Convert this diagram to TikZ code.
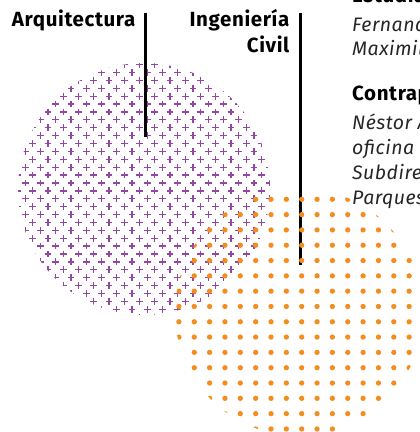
\documentclass[tikz,border=0pt]{standalone}
\usepackage{fontspec}
\setmainfont{Fira Sans}
\definecolor{pluspurple}{RGB}{146,72,162}
\definecolor{dotorange}{RGB}{244,140,30}
\tikzset{
  plusmark/.style={draw=pluspurple, line width=1.3pt},
  dotmark/.style={fill=dotorange},
  leader/.style={draw=black, line width=3pt},
  headlabel/.style={inner sep=0pt, font=\fontsize{20.5}{24}\selectfont\bfseries\addfontfeatures{LetterSpace=3}},
  bodytext/.style={inner sep=0pt, font=\fontsize{19.5}{24}\selectfont\itshape\addfontfeatures{LetterSpace=2.5}, text=black!85},
}
\begin{document}
\begin{tikzpicture}[x=1pt, y=-1pt]
\useasboundingbox (0,0) rectangle (420,432);
\clip (0,0) rectangle (420,432);
% purple plus pattern
\begin{scope}
  \clip (144,189) circle (126);
  \foreach \j in {-1,...,31} {
    \pgfmathsetmacro\yy{72.5+7.89*\j}
    \pgfmathsetmacro\xo{7.625*abs(mod(\j,2))}
    \foreach \k in {-7,...,11} {
      \pgfmathsetmacro\xx{116.7+\xo+15.25*\k}
      \draw[plusmark] (\xx,\yy) +(-3.4,0) -- +(3.4,0) +(0,-3.4) -- +(0,3.4);
    }
  }
\end{scope}
% leader lines
\coordinate (a1) at (145.7,12.7);
\coordinate (a2) at (145.7,136.5);
\coordinate (c1) at (300,12.7);
\coordinate (c2) at (300,265);
\draw[leader] (a1) -- (a2);
\draw[leader] (c1) -- (c2);
% orange dot pattern
\begin{scope}
  \clip (299,312) circle (124);
  \foreach \j in {0,...,15} {
    \pgfmathsetmacro\yy{199.3+15.31*\j}
    \foreach \k in {-8,...,8} {
      \pgfmathsetmacro\xx{301.7+15.35*\k}
      \fill[dotmark] (\xx,\yy) circle (2.65);
    }
  }
\end{scope}
% labels
\node[headlabel, anchor=base east] (arq) at (135.5,26.7) {Arquitectura};
\node[headlabel, anchor=base east] (ing) at (289.5,26.7) {Ingeniería};
\node[headlabel, anchor=base east] (civ) at (289.5,52) {Civil};
% right column
\node[headlabel, anchor=base west] (est) at (352,2.7) {Estudia};
\node[bodytext, anchor=base west] (fer) at (352,31.7) {Fernand};
\node[bodytext, anchor=base west] (max) at (352,55.5) {Maximil};
\node[headlabel, anchor=base west] (con) at (352,100) {Contrap};
\node[bodytext, anchor=base west] (nes) at (352,129.3) {Néstor A};
\node[bodytext, anchor=base west] (ofi) at (352,154) {oficina d};
\node[bodytext, anchor=base west] (sub) at (352,179) {Subdire};
\node[bodytext, anchor=base west] (par) at (352,204) {Parques};
\end{tikzpicture}
\end{document}
